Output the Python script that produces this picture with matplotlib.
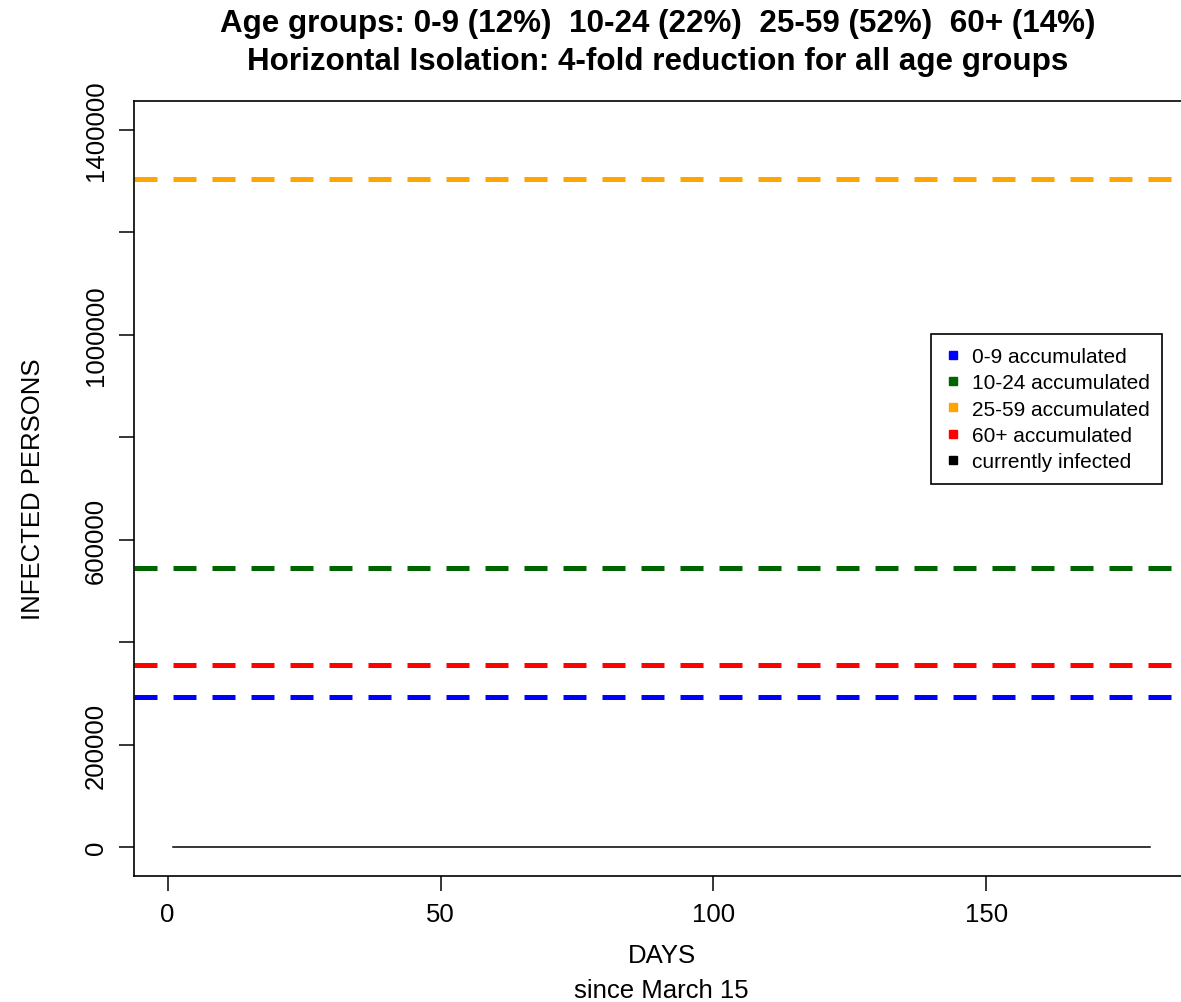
import numpy as np
import matplotlib
matplotlib.use("Agg")
import matplotlib.pyplot as plt
from matplotlib.lines import Line2D

plt.rcParams['font.family'] = ['Liberation Sans', 'DejaVu Sans']

# data
days = np.arange(1, 181)
current = [0] * 180
groups = ["0-9 accumulated", "10-24 accumulated", "25-59 accumulated", "60+ accumulated"]
acc_values = [292000, 544000, 1305000, 355000]
colors = ["blue", "darkgreen", "orange", "red"]
yticks = [0, 200000, 400000, 600000, 800000, 1000000, 1200000, 1400000]
ytick_labels = ["0", "200000", "", "600000", "", "1000000", "", "1400000"]
xticks = [0, 50, 100, 150]

fig = plt.figure(figsize=(11.81, 10.03), dpi=100)
ax = fig.add_axes([0.1135, 0.1256, 0.8933, 0.7727])

for v, c in zip(acc_values, colors):
    ax.axhline(v, color=c, lw=3.6, dashes=(4.6, 3.2), dash_capstyle='butt')
ax.plot(days, current, color="black", lw=1.1)

ax.set_xlim(-6.16, 187.16)
ax.set_ylim(-56630, 1456750)
ax.set_xticks(xticks)
ax.set_yticks(yticks)
ax.set_yticklabels(ytick_labels, rotation=90, va='center')
ax.tick_params(direction='out', length=11, width=1.1, labelsize=18.5, pad=8)
for s in ax.spines.values():
    s.set_linewidth(1.2)

ax.set_xlabel("DAYS", fontsize=18.5, labelpad=12)
fig.text(0.56, 0.0, "since March 15", ha='center', va='bottom', fontsize=18.5)
ax.set_ylabel("INFECTED PERSONS", fontsize=18.5, labelpad=28)

fig.text(0.557, 0.976, "Age groups: 0-9 (12%)  10-24 (22%)  25-59 (52%)  60+ (14%)",
         ha='center', va='center', fontsize=22.6, fontweight='bold')
fig.text(0.557, 0.938, "Horizontal Isolation: 4-fold reduction for all age groups",
         ha='center', va='center', fontsize=22.6, fontweight='bold')

handles = [Line2D([], [], marker='s', ls='none', color=c, markersize=5.5) for c in colors]
handles.append(Line2D([], [], marker='s', ls='none', color='black', markersize=5.5))
labels = groups + ["currently infected"]
leg = ax.legend(handles, labels, loc='upper left', bbox_to_anchor=(0.788, 0.666),
                bbox_transform=fig.transFigure, borderaxespad=0, fontsize=15,
                fancybox=False, framealpha=1, edgecolor='black', labelspacing=0.35,
                handletextpad=0.45, handlelength=0.9, borderpad=0.62, handleheight=0.7)
leg.get_frame().set_linewidth(1.2)

fig.savefig("out.png", dpi=100)
